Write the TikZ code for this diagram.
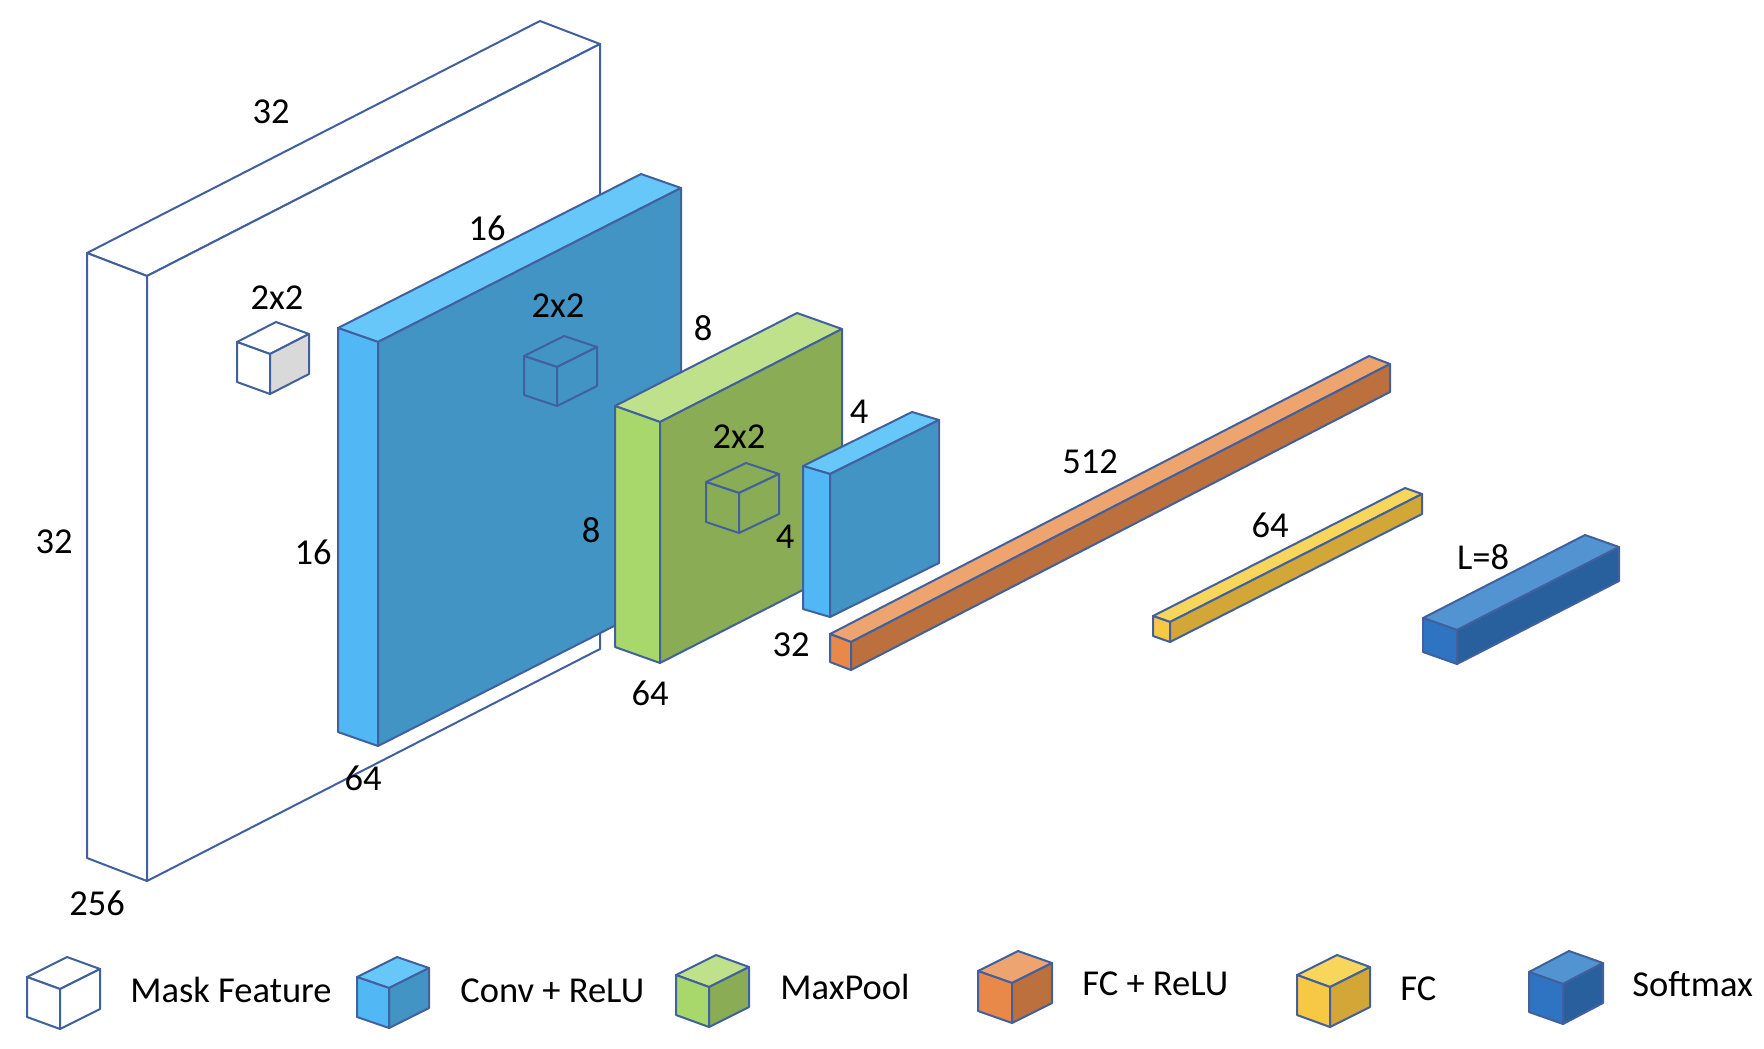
\documentclass[tikz,border=0pt]{standalone}
\usepackage{fontspec}
\setmainfont{Carlito}
\usetikzlibrary{calc}
\definecolor{edgeblue}{HTML}{41609E}
\definecolor{convL}{HTML}{52B8F5}
\definecolor{convT}{HTML}{67C7F9}
\definecolor{convR}{HTML}{4294C4}
\definecolor{poolL}{HTML}{A8D86C}
\definecolor{poolT}{HTML}{BFE18B}
\definecolor{poolR}{HTML}{89AC55}
\definecolor{fcrL}{HTML}{E8894A}
\definecolor{fcrT}{HTML}{EEA46F}
\definecolor{fcrR}{HTML}{BC703D}
\definecolor{fcL}{HTML}{F6C843}
\definecolor{fcT}{HTML}{F8D55B}
\definecolor{fcR}{HTML}{D2A637}
\definecolor{smL}{HTML}{2F74C2}
\definecolor{smT}{HTML}{5294D2}
\definecolor{smR}{HTML}{285F9D}
\definecolor{maskgray}{HTML}{D9D9D9}
\tikzset{
  boxline/.style={draw=edgeblue, line width=1pt, line join=round},
  lbl/.style={font=\fontsize{18.25}{22}\selectfont, inner sep=0pt, text=black},
  legtext/.style={lbl, anchor=base west}
}
% #1 left-top, #2 front-top, #3 right-top, #4 height, #5 left face, #6 top face, #7 long face
\newcommand{\cuboid}[7]{%
  \coordinate (cL) at (#1);
  \coordinate (cF) at (#2);
  \coordinate (cR) at (#3);
  \coordinate (cB) at ($(cL)+(cR)-(cF)$);
  \filldraw[boxline,fill=#6] (cL) -- (cB) -- (cR) -- (cF) -- cycle;
  \filldraw[boxline,fill=#5] (cL) -- (cF) -- ($(cF)+(0,#4)$) -- ($(cL)+(0,#4)$) -- cycle;
  \filldraw[boxline,fill=#7] (cF) -- (cR) -- ($(cR)+(0,#4)$) -- ($(cF)+(0,#4)$) -- cycle;
}
\begin{document}
\begin{tikzpicture}[x=0.5pt,y=-0.5pt]
\useasboundingbox[fill=white] (0,0) rectangle (1764,1048);

% Mask feature slab
\cuboid{87,253}{147,276}{600,44}{605}{white}{white}{white}
\cuboid{237,342}{270,354}{309,334}{40}{white}{white}{maskgray}
% Conv + ReLU slab
\cuboid{338,328}{378,342}{681,188}{404}{convL}{convT}{convR}
\cuboid{524,356}{557,367}{597,347}{39}{convR}{convR}{convR}
% MaxPool slab
\cuboid{615,406}{660,422}{842,329}{241}{poolL}{poolT}{poolR}
\cuboid{706,482}{739,493}{779,474}{40}{poolR}{poolR}{poolR}
% Conv + ReLU small
\cuboid{803,466}{830,474}{939,420}{143}{convL}{convT}{convR}
% FC + ReLU bar
\cuboid{830,634}{851,642}{1390,364}{28}{fcrL}{fcrT}{fcrR}
% FC bar
\cuboid{1153,616}{1170,622}{1422,494}{20}{fcL}{fcT}{fcR}
% Softmax bar
\cuboid{1423,618}{1457,630}{1619,547}{34}{smL}{smT}{smR}

% dimension labels
\node[lbl] (m32a) at (271,112) {32};
\node[lbl] (c16a) at (487,228) {16};
\node[lbl] (mk22) at (277,298) {2x2};
\node[lbl] (cv22) at (558,306) {2x2};
\node[lbl] (m32b) at (54,542) {32};
\node[lbl] (c16b) at (313,552) {16};
\node[lbl] (p8a) at (591,530) {8};
\node[lbl] (c64) at (363,778) {64};
\node[lbl] (m256) at (97,903) {256};
\node[lbl] (p64) at (650,693) {64};
\node[lbl] (p8b) at (703,328) {8};
\node[lbl] (pl22) at (739,437) {2x2};
\node[lbl] (s4a) at (785,537) {4};
\node[lbl] (s4b) at (859,412) {4};
\node[lbl] (f32) at (791,645) {32};
\node[lbl] (f512) at (1090,462) {512};
\node[lbl] (y64) at (1270,525) {64};
\node[lbl] (lL8) at (1483,557) {L=8};

% legend
\cuboid{27,977}{60,989}{100,969}{40}{white}{white}{white}
\cuboid{357,977}{389,988}{429,968}{40}{convL}{convT}{convR}
\cuboid{676,975}{709,987}{749,967}{40}{poolL}{poolT}{poolR}
\cuboid{978,971}{1012,983}{1052,963}{40}{fcrL}{fcrT}{fcrR}
\cuboid{1297,975}{1330,987}{1370,967}{40}{fcL}{fcT}{fcR}
\cuboid{1529,972}{1563,984}{1603,963}{40}{smL}{smT}{smR}
\node[legtext] (lg1) at (130,1002) {Mask Feature};
\node[legtext] (lg2) at (460,1002) {Conv + ReLU};
\node[legtext] (lg3) at (780,999) {MaxPool};
\node[legtext] (lg4) at (1082,995) {FC + ReLU};
\node[legtext] (lg5) at (1400,1000) {FC};
\node[legtext] (lg6) at (1632,996) {Softmax};
\end{tikzpicture}
\end{document}
